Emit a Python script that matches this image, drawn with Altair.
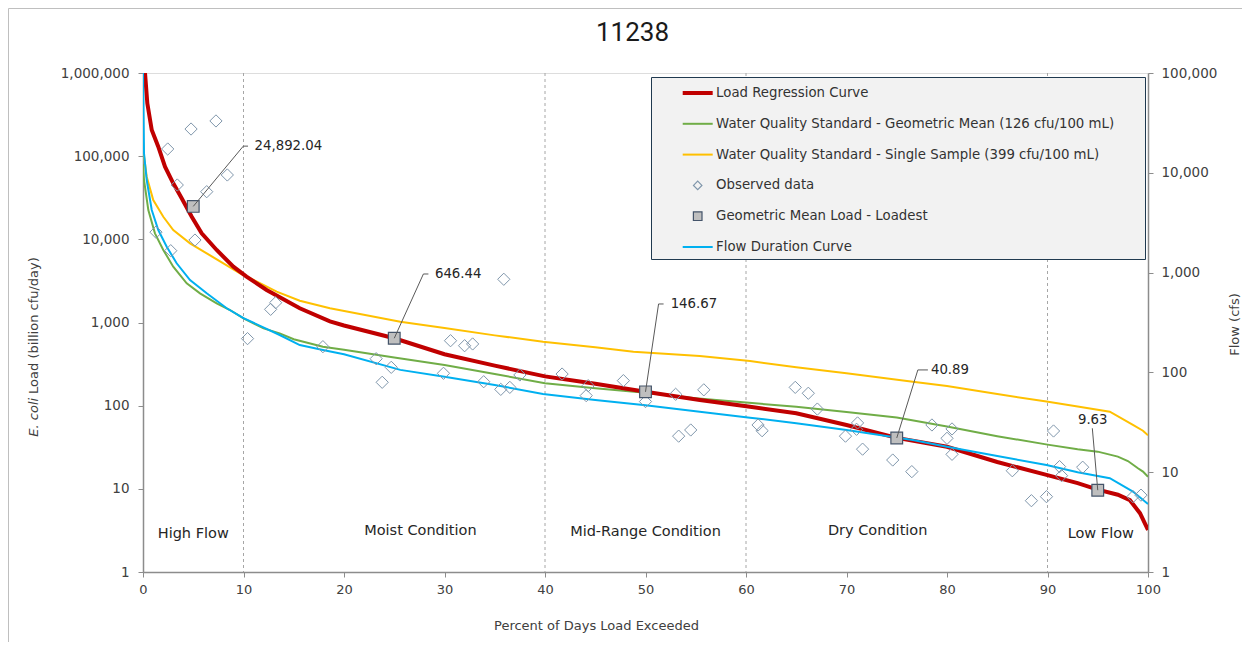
import altair as alt
import pandas as pd

# ------------------------------------------------------------------ data
title_text = "11238"

series_names = [
    "Load Regression Curve",
    "Water Quality Standard - Geometric Mean (126 cfu/100 mL)",
    "Water Quality Standard - Single Sample (399 cfu/100 mL)",
    "Observed data",
    "Geometric Mean Load - Loadest",
    "Flow Duration Curve",
]

geo_pct = [0, 0.1, 0.53, 1.19, 2.02, 3.01, 4.35, 5.67, 7.33, 8.66, 10, 12, 13.6, 15, 17.9,
           20, 25, 30, 35, 40, 45, 50, 55, 60, 65, 70, 75, 80, 85, 90, 93, 95, 97, 98, 99,
           99.5, 100]
geo_std_load = [80000, 51700, 22500, 11800, 7450, 4690, 2960, 2240, 1700, 1413, 1120, 850,
                741, 630, 512, 470, 380, 308, 240, 186, 162, 143, 123, 109, 97, 84, 72, 56,
                43, 34, 30, 28, 24.4, 21.6, 17.7, 16.1, 14]

single_pct = [0, 0.1, 0.37, 1.02, 2.02, 3.01, 4.68, 6.34, 8.0, 9.65, 11.0, 13.3, 15.6, 18.6,
              25.6, 30, 35, 39.8, 45, 48.8, 55.4, 60.4, 65, 70, 76.6, 80, 85, 89.9, 93,
              96.2, 98.5, 99.5, 100]
single_std_load = [150000, 100000, 56600, 29700, 18700, 12900, 8950, 6790, 5150, 3910, 3250,
                   2350, 1829, 1480, 1023, 860, 700, 588, 505, 445, 396, 344, 290, 245, 194,
                   172, 138, 112, 98, 84.7, 58.6, 50, 44]

flow_pct = [0, 0.1, 0.37, 0.87, 1.52, 2.36, 3.35, 4.68, 6.34, 8.33, 10, 13.6, 15.6, 17.9,
            20, 25.6, 30, 35, 39.8, 45, 50, 55.4, 60.4, 65, 70, 76.6, 80, 85, 89.9, 93,
            96.2, 98.5, 100]
flow_cfs = [100000, 15700, 8470, 4240, 2670, 1820, 1240, 843, 620, 439, 350, 237, 188, 168,
            152, 106, 90.6, 74.8, 60.8, 52.8, 46.8, 40.4, 35.2, 31, 26.5, 21, 18, 14.5,
            11.8, 10, 8.7, 6.4, 4.8]

reg_pct = [0, 0.2, 0.43, 0.87, 1.52, 2.19, 3.01, 3.85, 4.85, 5.84, 7.33, 8.99, 10.3, 12.3,
           15.6, 18.6, 20, 25, 30, 35, 40, 45, 50, 55.4, 60.4, 65, 70, 75, 80, 85, 89.9,
           93, 95, 97, 98.2, 99.2, 100]
reg_load = [2000000, 1000000, 432000, 206000, 130000, 74700, 47200, 31100, 18700, 11800,
            7450, 4690, 3560, 2460, 1483, 1030, 920, 646, 415, 303, 225, 183, 147, 117, 97,
            81, 58.6, 41, 32, 21, 14.7, 11.7, 9.8, 8.5, 7.3, 5.1, 3.2]

obs_pct = [2.46, 4.78, 7.26, 3.41, 6.34, 8.39, 1.29, 2.76, 5.17, 12.7, 13.2, 10.4, 17.9,
           23.2, 24.7, 23.8, 30.6, 32.0, 32.8, 35.9, 29.9, 33.9, 35.6, 36.5, 37.5, 41.7,
           44.3, 44.1, 47.8, 50.0, 53.0, 55.8, 53.3, 54.5, 61.2, 61.6, 64.9, 66.2, 67.1,
           71.1, 71.0, 69.9, 71.6, 74.6, 76.5, 78.5, 80.5, 80.0, 80.5, 86.5, 88.4, 89.9,
           90.6, 91.2, 91.4, 93.5, 98.5, 99.3]
obs_load = [122000, 212000, 265000, 45000, 37400, 59400, 12200, 7300, 9800, 1440, 1730,
            640, 512, 367, 289, 191, 604, 526, 552, 3310, 245, 194, 157, 166, 234, 240,
            174, 132, 200, 112, 137, 155, 43, 51, 58.6, 50, 166, 141, 91, 62, 52, 43, 30,
            22.2, 16.1, 58.6, 52.5, 40.5, 26, 16.5, 7.2, 8.05, 49.6, 18.5, 14.4, 18.2,
            8.05, 8.4]

gm_pct = [5, 25, 50, 75, 95]
gm_load = [24892.04, 646.44, 146.67, 40.89, 9.63]
gm_label = ["24,892.04", "646.44", "146.67", "40.89", "9.63"]
callout_elbow_pct = [9.98, 27.9, 51.3, 77.1, 94.46]
callout_elbow_load = [132000, 3830, 1670, 269, 53.5]
callout_end_pct = [10.45, 28.4, 51.8, 78.1, 94.46]
callout_text_pct = [11.1, 29.05, 52.5, 78.4, 94.5]
callout_text_load = [132000, 3830, 1670, 269, 68]
callout_align = ["left", "left", "left", "left", "center"]

zone_names = ["High Flow", "Moist Condition", "Mid-Range Condition", "Dry Condition", "Low Flow"]
zone_pct = [5, 27.6, 50, 73.1, 95.3]
zone_load = [2.86, 3.11, 3.0, 3.11, 2.86]
zone_bounds = [10, 40, 60, 90]

x_ticks = list(range(0, 101, 10))
load_ticks = [1, 10, 100, 1000, 10000, 100000, 1000000]
flow_ticks = [1, 10, 100, 1000, 10000, 100000]

# ------------------------------------------------------------------ styling
FONT = "DejaVu Sans"
TXT = "#404040"
AXC = "#8c8c8c"
RED, GREEN, YELLOW, BLUE = "#c00000", "#70ad47", "#ffc000", "#00b0f0"
DIAM, SQ_FILL, SQ_STROKE = "#7f96ab", "#bfbfbf", "#44546a"

geo = pd.DataFrame({"pct": geo_pct, "load": geo_std_load})
single = pd.DataFrame({"pct": single_pct, "load": single_std_load})
flow = pd.DataFrame({"pct": flow_pct, "flow": flow_cfs})
reg = pd.DataFrame({"pct": reg_pct, "load": reg_load})
obs = pd.DataFrame({"pct": obs_pct, "load": obs_load})
gm = pd.DataFrame({"pct": gm_pct, "load": gm_load, "label": gm_label,
                   "epct": callout_elbow_pct, "eload": callout_elbow_load,
                   "endpct": callout_end_pct, "tpct": callout_text_pct,
                   "tload": callout_text_load, "align": callout_align})
zones = pd.DataFrame({"name": zone_names, "pct": zone_pct, "load": zone_load})
bounds = pd.DataFrame({"pct": zone_bounds})
legend_df = pd.DataFrame({"series": series_names, "pct": [-50.0] * 6, "load": [1.0] * 6})

x_scale = alt.Scale(domain=[0, 100], nice=False, zero=False)
yl_scale = alt.Scale(type="log", domain=[1, 1000000], nice=False)
yr_scale = alt.Scale(type="log", domain=[1, 100000], nice=False)

x_axis = alt.Axis(values=x_ticks, grid=False, title="Percent of Days Load Exceeded",
                  titleX=453, titleY=53, titleAlign="center", titleBaseline="middle",
                  titleFont=FONT, titleFontSize=13, titleFontWeight="normal", titleColor=TXT,
                  labelFont=FONT, labelFontSize=13, labelColor=TXT, labelPadding=6,
                  labelFlush=False,
                  domainColor=AXC, domainWidth=1.5, tickColor=AXC, tickSize=5, tickWidth=1)
yl_axis = alt.Axis(values=load_ticks, format=",", orient="left", grid=False, title=None,
                   labelFont=FONT, labelFontSize=13.5, labelColor=TXT, labelPadding=9,
                   labelFlush=False,
                   domainColor=AXC, domainWidth=1.5, tickColor=AXC, tickSize=5, tickWidth=1)
yr_axis = alt.Axis(values=flow_ticks, format=",", orient="right", grid=False,
                   title="Flow (cfs)", titleAngle=270, titleX=86, titleY=251,
                   titleAlign="center", titleBaseline="middle", titleFont=FONT,
                   titleFontSize=13, titleFontWeight="normal", titleColor=TXT,
                   labelFont=FONT, labelFontSize=13.5, labelColor=TXT, labelPadding=8,
                   labelFlush=False,
                   domainColor=AXC, domainWidth=1.5, tickColor=AXC, tickSize=5, tickWidth=1)


def X(field="pct"):
    return alt.X(f"{field}:Q", scale=x_scale, axis=x_axis)


def YL(field="load", axis=yl_axis):
    return alt.Y(f"{field}:Q", scale=yl_scale, axis=axis)


def YT(field="load"):
    return alt.Y(f"{field}:Q", scale=yl_scale, axis=None)


# ------------------------------------------------------------------ left group (lines)
bound_rules = alt.Chart(bounds).mark_rule(color="#a6a6a6", strokeDash=[3, 3], strokeWidth=1).encode(
    x=X())
geo_line = alt.Chart(geo).mark_line(color=GREEN, strokeWidth=2, clip=True).encode(
    x=X(), y=YL())
single_line = alt.Chart(single).mark_line(color=YELLOW, strokeWidth=2, clip=True).encode(
    x=X(), y=YL())
reg_line = alt.Chart(reg).mark_line(color=RED, strokeWidth=4, clip=True).encode(
    x=X(), y=YL())
left_group = alt.layer(bound_rules, geo_line, single_line, reg_line)

# ------------------------------------------------------------------ right (flow)
flow_line = alt.Chart(flow).mark_line(color=BLUE, strokeWidth=2, clip=True).encode(
    x=X(), y=alt.Y("flow:Q", scale=yr_scale, axis=yr_axis))

# ------------------------------------------------------------------ top group (points, text)
obs_pts = alt.Chart(obs).mark_point(shape="diamond", size=150, filled=False,
                                    color=DIAM, strokeWidth=1, opacity=1).encode(
    x=X(), y=YT())
gm_pts = alt.Chart(gm).mark_point(shape="square", size=137, filled=True, fill=SQ_FILL,
                                  stroke=SQ_STROKE, strokeWidth=1.2, opacity=1).encode(
    x=X(), y=YT())
leader = alt.Chart(gm).mark_rule(color="#595959", strokeWidth=1).encode(
    x=X(), y=YT(), x2=alt.X2("epct:Q"), y2=alt.Y2("eload:Q"))
leader_h = alt.Chart(gm).transform_filter("datum.align == 'left'").mark_rule(
    color="#595959", strokeWidth=1).encode(
    x=X("epct"), y=YT("eload"), x2=alt.X2("endpct:Q"))
lab_left = alt.Chart(gm).transform_filter("datum.align == 'left'").mark_text(
    align="left", baseline="middle", font=FONT, fontSize=13.3, color="#262626").encode(
    x=X("tpct"), y=YT("tload"), text="label:N")
lab_center = alt.Chart(gm).transform_filter("datum.align == 'center'").mark_text(
    align="center", baseline="middle", font=FONT, fontSize=13.3, color="#262626").encode(
    x=X("tpct"), y=YT("tload"), text="label:N")
zone_text = alt.Chart(zones).mark_text(align="center", baseline="middle", font=FONT,
                                       fontSize=14.5, color="#262626").encode(
    x=X(), y=YT(), text="name:N")

# legend symbols: SVG paths (unit = 10 px at symbolSize 400); lines drawn as thin bars
line_bar_thick = "M-1.5,-0.2L1.5,-0.2L1.5,0.2L-1.5,0.2Z"
line_bar = "M-1.5,-0.1L1.5,-0.1L1.5,0.1L-1.5,0.1Z"
diamond_path = "M-0.42,0L0,-0.42L0.42,0L0,0.42Z"
square_path = "M-0.43,-0.43L0.43,-0.43L0.43,0.43L-0.43,0.43Z"
legend_shapes = [line_bar_thick, line_bar, line_bar, diamond_path, square_path, line_bar]
legend_fills = [RED, GREEN, YELLOW, "transparent", SQ_FILL, BLUE]
legend_strokes = ["transparent", "transparent", "transparent", DIAM, SQ_STROKE, "transparent"]

legend = alt.Legend(
    title="\u00a0", titleOrient="right", titlePadding=26,
    orient="none", legendX=508, legendY=4, padding=5, symbolOffset=30.7,
    fillColor="#f2f2f2", strokeColor="#203a50", labelFont=FONT, labelFontSize=13.3,
    labelColor="#333333", labelOffset=7.4, rowPadding=12.8, symbolSize=400,
    symbolStrokeWidth=1.2, labelLimit=600,
)
legend_layer = alt.Chart(legend_df).mark_point(clip=True, filled=True, opacity=1).encode(
    x=X(), y=YT(),
    shape=alt.Shape("series:N", scale=alt.Scale(domain=series_names, range=legend_shapes),
                    legend=legend),
    fill=alt.Fill("series:N", scale=alt.Scale(domain=series_names, range=legend_fills),
                  legend=legend),
    stroke=alt.Stroke("series:N", scale=alt.Scale(domain=series_names, range=legend_strokes),
                      legend=legend),
)

ytitle_a = alt.Chart(pd.DataFrame({"t": ["E. coli"]})).mark_text(
    angle=270, align="left", baseline="middle", font=FONT, fontSize=13, fontStyle="italic",
    color=TXT).encode(text="t:N", x=alt.value(-109), y=alt.value(363.7))
ytitle_b = alt.Chart(pd.DataFrame({"t": ["Load (billion cfu/day)"]})).mark_text(
    angle=270, align="left", baseline="middle", font=FONT, fontSize=13,
    color=TXT).encode(text="t:N", x=alt.value(-109), y=alt.value(320.9))
title_mark = alt.Chart(pd.DataFrame({"t": [title_text]})).mark_text(
    align="center", baseline="middle", font="Roboto", fontSize=26, color="#1a1a1a").encode(
    text="t:N", x=alt.value(489.5), y=alt.value(-40.5))
frame_left = alt.Chart(pd.DataFrame({"t": [0]})).mark_rule(color="#bfbfbf", strokeWidth=1).encode(
    x=alt.value(-134.5), y=alt.value(-64.5), y2=alt.value(580))
frame_top = alt.Chart(pd.DataFrame({"t": [0]})).mark_rule(color="#bfbfbf", strokeWidth=1).encode(
    x=alt.value(-134.5), x2=alt.value(1100), y=alt.value(-64.5))

top_group = alt.layer(obs_pts, gm_pts, leader, leader_h, lab_left, lab_center, zone_text,
                      legend_layer, ytitle_a, ytitle_b, title_mark, frame_left, frame_top)

chart = alt.layer(left_group, flow_line, top_group).resolve_scale(y="independent").properties(
    width=1005, height=499,
    autosize=alt.AutoSizeParams(type="none"),
    padding={"left": 135, "top": 65, "right": 94, "bottom": 70},
    background="white",
).configure_view(stroke=AXC, strokeWidth=1).configure(font=FONT)

chart.save("out.html", embed_options={"renderer": "svg", "actions": False})
